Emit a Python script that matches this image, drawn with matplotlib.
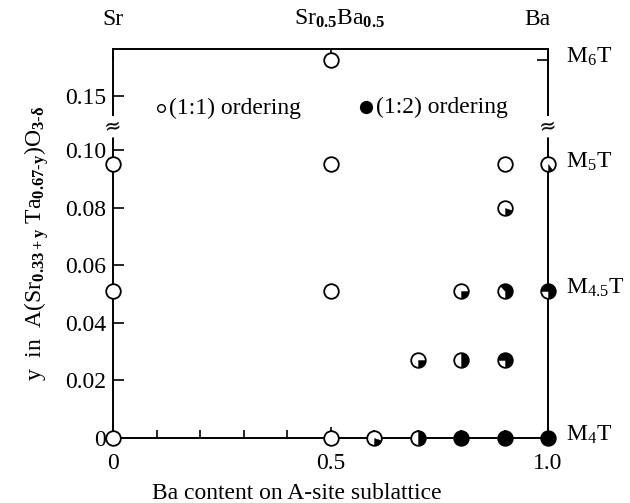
import numpy as np
import matplotlib
matplotlib.use("Agg")
import matplotlib.pyplot as plt
from matplotlib.path import Path
from matplotlib.ticker import FixedLocator, FixedFormatter, MultipleLocator
from matplotlib.transforms import blended_transform_factory

plt.rcParams['font.family'] = ['Liberation Serif', 'DejaVu Serif']
plt.rcParams['mathtext.fontset'] = 'custom'
plt.rcParams['mathtext.rm'] = 'Liberation Serif'
plt.rcParams['mathtext.it'] = 'Liberation Serif:italic'
plt.rcParams['mathtext.bf'] = 'Liberation Serif:bold'

# ---- data ----
ba_content = [0.0, 0.0, 0.0,
              0.5, 0.5, 0.5, 0.5,
              0.6, 0.7, 0.7,
              0.8, 0.8, 0.8,
              0.9, 0.9, 0.9, 0.9, 0.9,
              1.0, 1.0, 1.0]
y_value = [0.0, 0.0513, 0.0952,
           0.0, 0.0513, 0.0952, 0.1667,
           0.0, 0.0, 0.027,
           0.0, 0.027, 0.0513,
           0.0, 0.027, 0.0513, 0.08, 0.0952,
           0.0, 0.0513, 0.0952]
# fraction of (1:2) ordering (black part of the circle)
frac_12 = [0.0, 0.0, 0.0,
           0.0, 0.0, 0.0, 0.0,
           0.2, 0.5, 0.25,
           1.0, 0.5, 0.25,
           1.0, 0.75, 0.62, 0.2, 0.0,
           1.0, 0.75, 0.1]

ytick_vals = [0, 0.02, 0.04, 0.06, 0.08, 0.10, 0.15]
ytick_labels = ['0', '0.02', '0.04', '0.06', '0.08', '0.10', '0.15']
xtick_vals = [0, 0.5, 1.0]
xtick_labels = ['0', '0.5', '1.0']
right_vals = [0.1667, 0.0952, 0.0513, 0.0]
right_labels = ['M$_{\\mathregular{6}}$T', 'M$_{\\mathregular{5}}$T',
                'M$_{\\mathregular{4.5}}$T', 'M$_{\\mathregular{4}}$T']
top_labels = ['Sr', 'Sr$_{\\mathbf{0.5}}$Ba$_{\\mathbf{0.5}}$', 'Ba']
top_pos = [0.0, 0.52, 0.975]

# broken y scale
_xp = np.array([-1.0, 0.108, 0.138, 1.0])
_fp = np.array([-1.0, 0.108, 0.110, 0.119 + 0.85 * 0.751])
def fwd(v):
    return np.interp(v, _xp, _fp)
def inv(v):
    return np.interp(v, _fp, _xp)

FS = 17

fig = plt.figure(figsize=(6.30, 5.03), dpi=100)
ax = fig.add_axes([113/630, (503-438)/503, 435/630, 389/503])
ax.set_yscale('function', functions=(fwd, inv))
ax.set_xlim(0, 1.0)
ax.set_ylim(0, inv(0.1353))

for s in ax.spines.values():
    s.set_linewidth(1.4)

ax.yaxis.set_major_locator(FixedLocator(ytick_vals))
ax.yaxis.set_major_formatter(FixedFormatter(ytick_labels))
ax.yaxis.set_minor_locator(FixedLocator([0.1667]))
ax.xaxis.set_major_locator(FixedLocator(xtick_vals))
ax.xaxis.set_major_formatter(FixedFormatter(xtick_labels))
ax.xaxis.set_minor_locator(MultipleLocator(0.1))
ax.tick_params(axis='y', which='major', direction='in', length=8, width=1.2,
               left=True, right=False, labelsize=FS, pad=5)
ax.tick_params(axis='y', which='minor', direction='in', length=8, width=1.2,
               left=False, right=True)
ax.tick_params(axis='x', which='major', direction='in', length=8, width=1.2,
               top=True, bottom=True, labelsize=FS, pad=11)
ax.tick_params(axis='x', which='minor', direction='in', length=6, width=1.2,
               top=False, bottom=True)

# markers
ms = 10.5
for x, y, f in zip(ba_content, y_value, frac_12):
    if f >= 1.0:
        ax.plot([x], [y], 'o', ms=ms, mfc='black', mec='black', mew=1.3,
                clip_on=False, zorder=5)
    else:
        ax.plot([x], [y], 'o', ms=ms, mfc='white', mec='black', mew=1.3,
                clip_on=False, zorder=5)
        if f > 0:
            w = Path.wedge(-90, -90 + 360 * f)
            ax.plot([x], [y], marker=w, ms=ms, mfc='black', mec='black',
                    mew=0.3, ls='none', clip_on=False, zorder=6)

# break marks
for xb in (0.0, 1.0):
    ax.text(xb, 0.112, '\u2248', ha='center', va='center', fontsize=15,
            family='DejaVu Serif', rotation=10,
            bbox=dict(boxstyle='square,pad=0.05', fc='white', ec='none'),
            zorder=7, clip_on=False)

# right labels
trans_r = blended_transform_factory(ax.transAxes, ax.transData)
for v, lab in zip(right_vals, right_labels):
    ax.annotate(lab, xy=(1.0, v), xycoords=trans_r, xytext=(13, 2),
                textcoords='offset points', ha='left', va='center', fontsize=FS)

# top labels
trans_t = blended_transform_factory(ax.transData, fig.transFigure)
for xp, lab in zip(top_pos, top_labels):
    ax.text(xp, 0.962, lab, transform=trans_t, ha='center', va='center',
            fontsize=FS)

# legend-like annotations
ax.plot([0.110], [0.848], 'o', ms=5.5, mfc='white', mec='black', mew=1.0,
        transform=ax.transAxes, clip_on=False)
ax.text(0.128, 0.848, '(1:1) ordering', transform=ax.transAxes,
        ha='left', va='center', fontsize=FS)
ax.plot([0.5816], [0.851], 'o', ms=8.5, mfc='black', mec='black',
        transform=ax.transAxes, clip_on=False)
ax.text(0.605, 0.851, '(1:2) ordering', transform=ax.transAxes,
        ha='left', va='center', fontsize=FS)

ax.set_xlabel('Ba content on A-site sublattice', fontsize=FS, labelpad=6)
ax.xaxis.set_label_coords(0.423, -0.115)
ax.set_ylabel('y  in  A(Sr$_{\\mathbf{0.33+y}}$ Ta$_{\\mathbf{0.67\u2010y}}$)O$_{\\mathbf{3\u2010\u03b4}}$',
              fontsize=FS, labelpad=10)

fig.savefig('out.png', dpi=100)
